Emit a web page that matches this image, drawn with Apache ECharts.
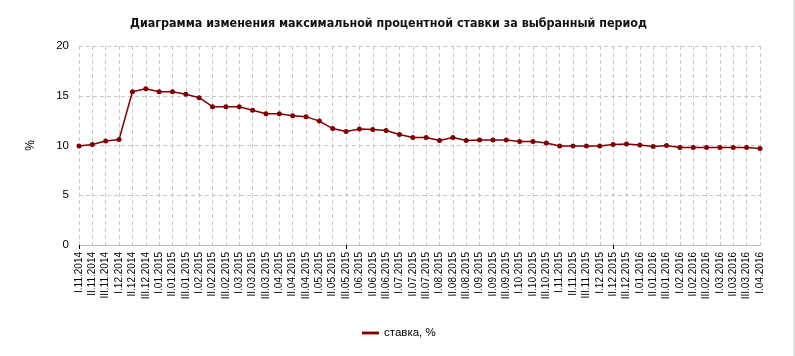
<!DOCTYPE html>
<html><head><meta charset="utf-8">
<script src="https://cdn.jsdelivr.net/npm/echarts@6/dist/echarts.min.js"></script>
<style>html,body{margin:0;padding:0;background:#fff}#c{width:795px;height:356px}#strip{position:absolute;left:793px;top:0;width:2px;height:356px;background:#e4e4e4}</style>
</head><body><div id="c"></div><div id="strip"></div>
<script>
const titleText = 'Диаграмма изменения максимальной процентной ставки за выбранный период';
const seriesName = 'ставка, %';
const categories = [
 'I.11.2014','II.11.2014','III.11.2014','I.12.2014','II.12.2014','III.12.2014',
 'I.01.2015','II.01.2015','III.01.2015','I.02.2015','II.02.2015','III.02.2015',
 'I.03.2015','II.03.2015','III.03.2015','I.04.2015','II.04.2015','III.04.2015',
 'I.05.2015','II.05.2015','III.05.2015','I.06.2015','II.06.2015','III.06.2015',
 'I.07.2015','II.07.2015','III.07.2015','I.08.2015','II.08.2015','III.08.2015',
 'I.09.2015','II.09.2015','III.09.2015','I.10.2015','II.10.2015','III.10.2015',
 'I.11.2015','II.11.2015','III.11.2015','I.12.2015','II.12.2015','III.12.2015',
 'I.01.2016','II.01.2016','III.01.2016','I.02.2016','II.02.2016','III.02.2016',
 'I.03.2016','II.03.2016','III.03.2016','I.04.2016'
];
const rates = [
 9.95,10.1,10.45,10.6,15.4,15.7,
 15.4,15.4,15.15,14.8,13.9,13.9,
 13.9,13.55,13.2,13.2,13.0,12.9,
 12.45,11.7,11.4,11.65,11.6,11.5,
 11.1,10.8,10.8,10.5,10.8,10.5,
 10.55,10.55,10.55,10.4,10.4,10.25,
 9.95,9.95,9.95,9.95,10.1,10.15,
 10.05,9.9,10.0,9.8,9.8,9.8,
 9.8,9.8,9.8,9.7
];
const yTicks = [0,5,10,15,20];
const chart = echarts.init(document.getElementById('c'), null, {renderer:'canvas'});
chart.setOption({
  animation:false,
  title:{text:titleText,left:125,top:13,textStyle:{fontFamily:'DejaVu Sans Condensed',fontWeight:'bold',fontSize:12.4,color:'#111'}},
  legend:{data:[seriesName],bottom:12,left:357,itemWidth:17,itemHeight:8,itemGap:5,textStyle:{fontFamily:'Liberation Sans',fontSize:11.5,color:'#000'},icon:'path://M0,2.5L18,2.5L18,5.5L0,5.5Z'},
  grid:{left:79,right:35,top:46,bottom:111,containLabel:false},
  xAxis:{type:'category',data:categories,boundaryGap:false,
    axisLine:{show:true,lineStyle:{color:'#bbb',width:1}},
    axisTick:{show:true,interval:function(i){return i%20===0;},length:4,lineStyle:{color:'#000'}},
    axisLabel:{interval:0,rotate:90,fontFamily:'Liberation Sans',fontSize:10,color:'#000',margin:7},
    splitLine:{show:true,interval:0,lineStyle:{color:'#c8c8c8',type:[4,3],width:1}}
  },
  yAxis:{type:'value',min:yTicks[0],max:yTicks[yTicks.length-1],interval:5,
    name:'%',nameLocation:'middle',nameGap:42,nameRotate:90,nameTextStyle:{fontFamily:'Liberation Sans',fontSize:12,color:'#000'},
    axisLine:{show:false},axisTick:{show:false},
    axisLabel:{fontFamily:'Liberation Sans',fontSize:11.5,color:'#000',margin:10},
    splitLine:{show:true,lineStyle:{color:'#c8c8c8',type:[4,3],width:1}}
  },
  series:[{name:seriesName,type:'line',data:rates,symbol:'circle',symbolSize:5,
    itemStyle:{color:'#800000'},lineStyle:{color:'#800000',width:1.5}}]
});
</script></body></html>
